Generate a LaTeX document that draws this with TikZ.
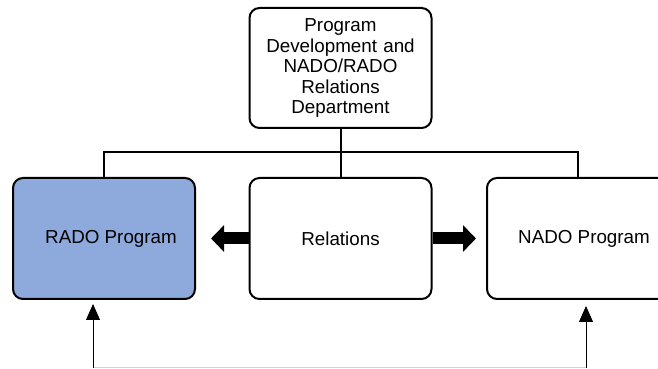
\documentclass[tikz,border=0pt]{standalone}
\usepackage{fontspec}
\setmainfont{Liberation Sans}
\usepackage{tikz}
\usetikzlibrary{arrows.meta,positioning}
\definecolor{radoblue}{RGB}{142,169,219}
\definecolor{feedgray}{RGB}{212,212,212}

\begin{document}
\begin{tikzpicture}[x=1pt,y=1pt,
  orgbox/.style={draw=black,line width=2pt,rounded corners=10pt,minimum width=182pt,minimum height=121pt,font=\fontsize{18.8}{20.5}\selectfont,align=center,inner sep=0pt},
  bus/.style={line width=2pt},
  bigarrow/.style={line width=12pt,-{Triangle[length=13pt,width=26pt]}},
  feed/.style={line width=0.8pt,-{Triangle[length=16pt,width=14pt]}},
]
  \useasboundingbox (0,0) rectangle (658,369);
  \clip (0,0) rectangle (658,369);
  \node[orgbox,minimum height=120pt,text width=175pt] (dept) at (340.5,301) {Program\\Development and\\NADO/RADO\\Relations\\Department};
  \node[orgbox,fill=radoblue] (rado) at (104,130.5) {\hspace*{14pt}RADO Program};
  \node[orgbox] (rel)  at (340.5,130.5) {Relations};
  \node[orgbox] (nado) at (578,130.5) {\hspace*{12pt}NADO Program};
  \draw[bus] (dept.south) -- (rel.north);
  \draw[bus] (rado.north) -- ++(0,25) -| (nado.north);
  \draw[bigarrow,shorten >=15pt] (rel.west) -- (rado.east);
  \draw[bigarrow,shorten >=10pt] (rel.east) -- (nado.west);
  \coordinate (radofeed) at (93,1);
  \coordinate (nadofeed) at (586,1);
  \draw[feedgray,line width=1pt] (radofeed) -- (nadofeed);
  \draw[feed,shorten >=4pt] (radofeed) -- (radofeed |- rado.south);
  \draw[feed,shorten >=6pt] (nadofeed) -- (nadofeed |- nado.south);
\end{tikzpicture}
\end{document}
